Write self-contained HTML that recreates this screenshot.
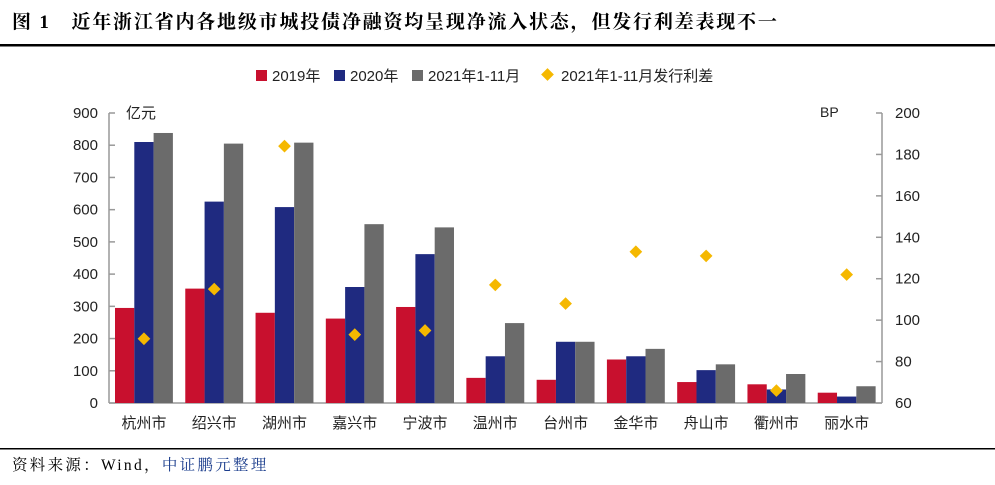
<!DOCTYPE html>
<html><head><meta charset="utf-8"><style>
body{margin:0;background:#fff;width:995px;height:480px;overflow:hidden}
svg text{font-family:"Liberation Sans","Noto Sans CJK SC",sans-serif}
</style></head><body>
<svg width="995" height="480" xmlns="http://www.w3.org/2000/svg">
<text x="12" y="28" font-size="19" font-weight="bold" letter-spacing="1.8" style="font-family:'Liberation Serif','Noto Serif CJK SC',serif">图 1　近年浙江省内各地级市城投债净融资均呈现净流入状态，但发行利差表现不一</text>
<rect x="0" y="44" width="995" height="2.5" fill="#000"/>
<rect x="0" y="448" width="995" height="1.5" fill="#000"/>
<text x="12" y="470" font-size="15.5" letter-spacing="2.3" style="font-family:'Liberation Serif','Noto Serif CJK SC',serif">资料来源：Wind，<tspan fill="#1a3c8c">中证鹏元整理</tspan></text>
<g font-size="15" fill="#222">
<rect x="256" y="70" width="11" height="11" fill="#c8102e"/><text x="272" y="81">2019年</text>
<rect x="334" y="70" width="11" height="11" fill="#1f2a80"/><text x="350" y="81">2020年</text>
<rect x="412" y="70" width="11" height="11" fill="#6b6b6b"/><text x="428" y="81">2021年1-11月</text>
<rect x="543" y="70" width="9" height="9" fill="#f5b800" transform="rotate(45 547.5 74.5)"/><text x="561" y="81">2021年1-11月发行利差</text>
</g>
<g stroke="#999" stroke-width="1.5" fill="none">
<line x1="109" y1="113" x2="109" y2="403"/>
<line x1="882" y1="113" x2="882" y2="403"/>
<line x1="109" y1="403" x2="882" y2="403"/>
</g>
<g id="ax" font-size="15" fill="#222"></g>
<g id="bars"></g>
<text x="126" y="118" font-size="15" fill="#222">亿元</text>
<text x="820" y="117" font-size="14" fill="#222">BP</text>
<script>
var ns="http://www.w3.org/2000/svg";
function el(t,a,p){var e=document.createElementNS(ns,t);for(var k in a)e.setAttribute(k,a[k]);document.getElementById(p).appendChild(e);return e;}
for(var i=0;i<=9;i++){var y=403-i*290/9;
el("line",{x1:109,x2:115,y1:y,y2:y,stroke:"#999","stroke-width":1.5},"ax");
var t=el("text",{x:98,y:y+5,"text-anchor":"end"},"ax");t.textContent=i*100;}
for(var i=0;i<=7;i++){var y=403-i*290/7;
el("line",{x1:876,x2:882,y1:y,y2:y,stroke:"#999","stroke-width":1.5},"ax");
var t=el("text",{x:895,y:y+5},"ax");t.textContent=60+i*20;}
var names=["杭州市","绍兴市","湖州市","嘉兴市","宁波市","温州市","台州市","金华市","舟山市","衢州市","丽水市"];
var d=[[295,810,838,91],[355,625,805,115],[280,608,808,184],[262,360,555,93],[298,462,545,95],[78,145,248,117],[72,190,190,108],[135,145,168,133],[65,102,120,131],[58,42,90,66],[32,20,52,122]];
var cols=["#c8102e","#1f2a80","#6b6b6b"];
var w=(882-109)/11;
for(var c=0;c<11;c++){var x0=109+c*w;
for(var s=0;s<3;s++){var h=d[c][s]*290/900;el("rect",{x:x0+6+s*19.3,y:403-h,width:19.3,height:h,fill:cols[s]},"bars");}
var cx=x0+6+28.95,cy=403-(d[c][3]-60)*290/140;
el("rect",{x:cx-4.5,y:cy-4.5,width:9,height:9,fill:"#f5b800",transform:"rotate(45 "+cx+" "+cy+")"},"bars");
var t=el("text",{x:cx,y:428,"text-anchor":"middle","font-size":15,fill:"#222"},"bars");t.textContent=names[c];}
</script>
</svg>
</body></html>
